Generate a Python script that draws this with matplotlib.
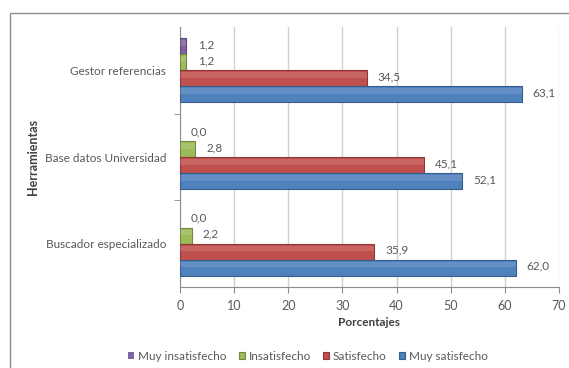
import numpy as np
import matplotlib.pyplot as plt
from matplotlib.patches import Rectangle

plt.rcParams['font.family'] = ['Lato', 'DejaVu Sans']

herramientas = ['Buscador especializado', 'Base datos Universidad', 'Gestor referencias']
series = ['Muy insatisfecho', 'Insatisfecho', 'Satisfecho', 'Muy satisfecho']
muy_insatisfecho = [0.0, 0.0, 1.2]
insatisfecho = [2.2, 2.8, 1.2]
satisfecho = [35.9, 45.1, 34.5]
muy_satisfecho = [62.0, 52.1, 63.1]
valores = [muy_insatisfecho, insatisfecho, satisfecho, muy_satisfecho]

colores = ['#8064A2', '#9BBB59', '#C0504D', '#4F81BD']
bordes = ['#5C4776', '#71893F', '#8C3836', '#385D8A']
gris = '#595959'

fig = plt.figure(figsize=(5.69, 3.68), dpi=100)
ax = fig.add_axes([0.3163, 0.2201, 0.6661, 0.7065])

# marco del gráfico
fig.patches.append(Rectangle((10/569, -0.1), 1.2, 1 - 13/368 + 0.1, transform=fig.transFigure,
                             fill=False, edgecolor='#8C8C8C', linewidth=1.0))

y = np.arange(len(herramientas))
h = 0.184
offs = [1.5*h, 0.5*h, -0.5*h, -1.5*h]
for vals, off, c, b, nombre in zip(valores, offs, colores, bordes, series):
    lw = [0.8 if v > 0 else 0 for v in vals]
    ax.barh(y + off, vals, height=h, color=c, edgecolor=b, linewidth=lw, label=nombre, zorder=3)
    # brillo en la parte superior
    ax.barh(y + off + h*0.2, vals, height=h*0.35, color='white', alpha=0.12, linewidth=0, zorder=4)
    for yy, v in zip(y + off, vals):
        ax.annotate(f'{v:.1f}'.replace('.', ','), (v, yy), xytext=(8, 1), textcoords='offset points',
                    va='center', ha='left', fontsize=8.5, color=gris)

ax.set_xlim(0, 70)
ax.set_ylim(-0.5, 2.5)
ax.set_xticks(np.arange(0, 71, 10))
ax.set_yticks(y)
ax.set_yticklabels(herramientas)
ax.set_yticks([0.5, 1.5], minor=True)
ax.tick_params(axis='y', which='major', length=0, pad=10, labelsize=8.5, labelcolor=gris)
ax.tick_params(axis='y', which='minor', length=4, color='#8C8C8C')
ax.tick_params(axis='x', length=4, color='#8C8C8C', labelsize=9, labelcolor=gris, pad=5)
ax.grid(axis='x', color='#D0D0D0', linewidth=1.0, zorder=0)
for s in ['top', 'right']:
    ax.spines[s].set_visible(False)
for s in ['left', 'bottom']:
    ax.spines[s].set_color('#8C8C8C')

ax.set_xlabel('Porcentajes', fontsize=8.5, fontweight='bold', color='#404040', labelpad=4)
ax.set_ylabel('Herramientas', fontsize=9, fontweight='bold', color='#404040')
ax.yaxis.set_label_coords(-0.372, 0.5)

fig.legend(loc='center', bbox_to_anchor=(308/569, 1 - 356/368), ncol=4, frameon=False,
           fontsize=8.5, handlelength=0.5, handleheight=0.5, handletextpad=0.35, columnspacing=1.0,
           labelcolor=gris)

fig.savefig('out.png', dpi=100)
